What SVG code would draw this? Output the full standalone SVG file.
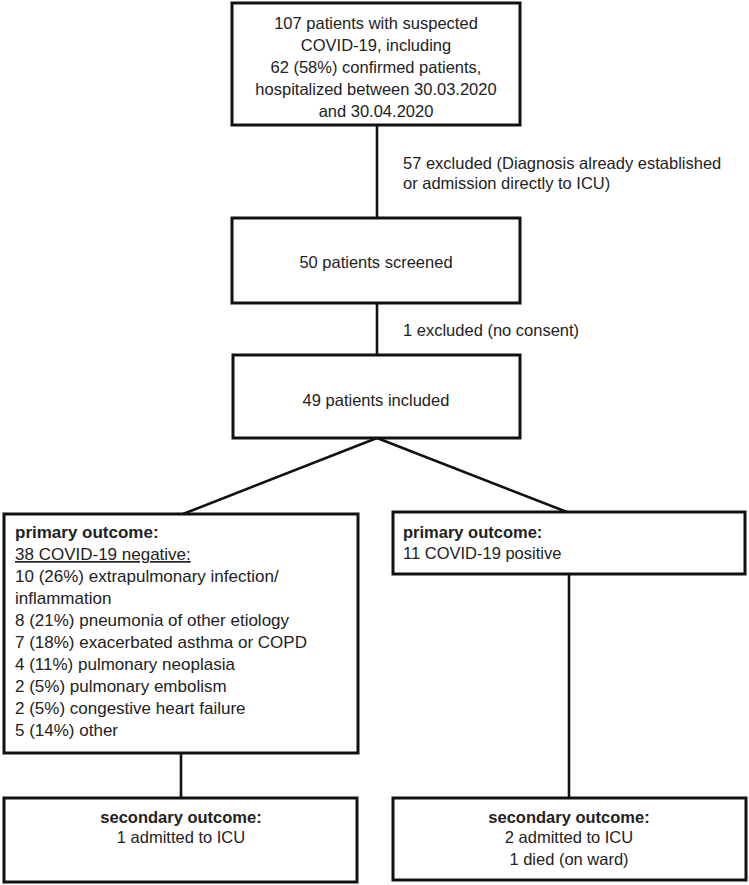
<svg xmlns="http://www.w3.org/2000/svg" width="749" height="885" viewBox="0 0 749 885">
<style>
.box{fill:#fff;stroke:#111;stroke-width:3}
.ln{stroke:#111;stroke-width:2.6;fill:none}
text{font-family:"Liberation Sans",Arial,sans-serif;font-size:16.5px;fill:#222}
.c{text-anchor:middle}
.b{font-weight:bold}
.u{text-decoration:underline}
.l{font-size:17px}
</style>
<rect width="749" height="885" fill="#fff"/>
<g id="connectors">
<line class="ln" x1="377" y1="125" x2="377" y2="218"/>
<line class="ln" x1="377" y1="303" x2="377" y2="355"/>
<line class="ln" x1="377" y1="438" x2="183" y2="514"/>
<line class="ln" x1="377" y1="438" x2="567" y2="512"/>
<line class="ln" x1="181" y1="753" x2="181" y2="798"/>
<line class="ln" x1="569" y1="574" x2="569" y2="798"/>
<text x="403" y="169">57 excluded (Diagnosis already established</text>
<text x="403" y="189">or admission directly to ICU)</text>
<text x="403" y="336">1 excluded (no consent)</text>
</g>
<g id="n1">
<rect class="box" x="232" y="3" width="288" height="122"/>
<text class="c" x="376" y="29">107 patients with suspected</text>
<text class="c" x="376" y="51">COVID-19, including</text>
<text class="c" x="376" y="73">62 (58%) confirmed patients,</text>
<text class="c" x="376" y="95">hospitalized between 30.03.2020</text>
<text class="c" x="376" y="117">and 30.04.2020</text>
</g>
<g id="n2">
<rect class="box" x="232" y="218" width="288" height="85"/>
<text class="c" x="376" y="268">50 patients screened</text>
</g>
<g id="n3">
<rect class="box" x="233" y="355" width="287" height="83"/>
<text class="c" x="376" y="406">49 patients included</text>
</g>
<g id="n4">
<rect class="box" x="4" y="514" width="354" height="239"/>
<text class="b l" x="15" y="538">primary outcome:</text>
<text class="u l" x="15" y="560">38 COVID-19 negative:</text>
<text class="l" x="15" y="582">10 (26%) extrapulmonary infection/</text>
<text class="l" x="15" y="604">inflammation</text>
<text class="l" x="15" y="626">8 (21%) pneumonia of other etiology</text>
<text class="l" x="15" y="648">7 (18%) exacerbated asthma or COPD</text>
<text class="l" x="15" y="670">4 (11%) pulmonary neoplasia</text>
<text class="l" x="15" y="692">2 (5%) pulmonary embolism</text>
<text class="l" x="15" y="714">2 (5%) congestive heart failure</text>
<text class="l" x="15" y="736">5 (14%) other</text>
</g>
<g id="n5">
<rect class="box" x="393" y="512" width="352" height="62"/>
<text class="b" x="403" y="538">primary outcome:</text>
<text x="403" y="559">11 COVID-19 positive</text>
</g>
<g id="n6">
<rect class="box" x="4" y="798" width="353" height="84"/>
<text class="c b" x="181" y="823">secondary outcome:</text>
<text class="c" x="181" y="843">1 admitted to ICU</text>
</g>
<g id="n7">
<rect class="box" x="393" y="798" width="353" height="82"/>
<text class="c b" x="569" y="823">secondary outcome:</text>
<text class="c" x="569" y="843">2 admitted to ICU</text>
<text class="c" x="569" y="865">1 died (on ward)</text>
</g>
</svg>
